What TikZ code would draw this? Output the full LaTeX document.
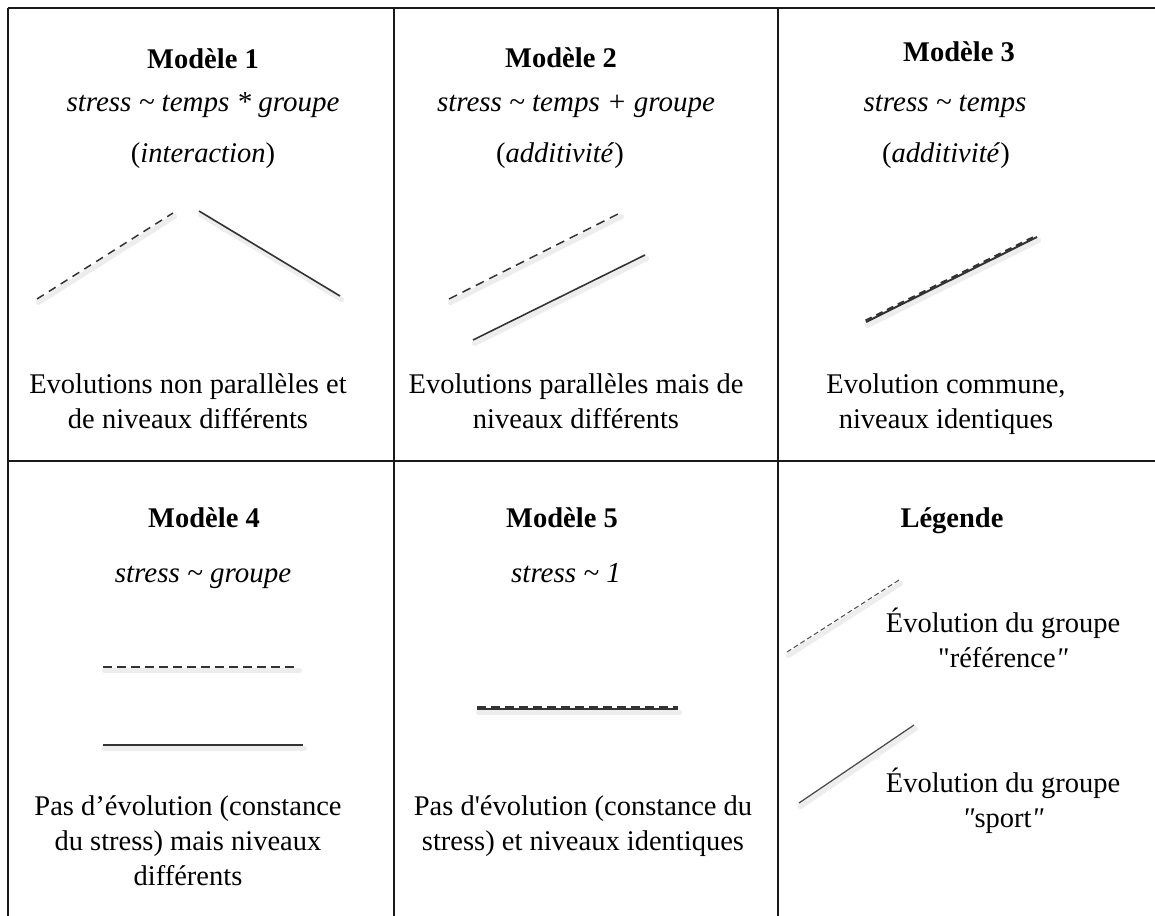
\documentclass[tikz,border=0pt]{standalone}
\usepackage{fontspec}
\setmainfont{Liberation Serif}
\usetikzlibrary{positioning}
\tikzset{
  % lines of the table
  tableline/.style={draw=black!90, line width=1.8pt},
  % texts of the cells (multi-line nodes sit on their last line)
  modelname/.style={anchor=base, inner sep=0pt, font=\fontsize{28.5}{35}\selectfont\bfseries},
  formula/.style={anchor=base, inner sep=0pt, font=\fontsize{29}{35}\selectfont\itshape},
  comment/.style={anchor=base, inner sep=0pt, align=center, font=\fontsize{28.5}{35}\selectfont},
  % soft shadow under the curves
  lineshadow/.style={preaction={draw=black!7, solid, line width=5pt, line cap=round,
      transform canvas={shift={(1.5pt,-3.5pt)}}}},
  % groups "reference" (dashed) and "sport" (solid)
  refline/.style={dash pattern=on 8pt off 6pt, line width=1.5pt, black!80},
  sportline/.style={line width=1.6pt, black!80},
  refgroup/.style={lineshadow, refline},
  sportgroup/.style={lineshadow, sportline},
}

\begin{document}
\begin{tikzpicture}[x=1pt, y=-1pt]
  \useasboundingbox (0,0) rectangle (1155,915);
  \clip (0,0) rectangle (1155,915);
  \fill[white] (0,0) rectangle (1155,915);

  % table
  \draw[tableline] (8,8) -- (1170,8);
  \draw[tableline] (8,8) -- (8,930);
  \draw[tableline] (394,8) -- (394,930);
  \draw[tableline] (778,8) -- (778,930);
  \draw[tableline] (8,461) -- (1170,461);

  % Model 1
  \node[modelname] (t1) at (203,69) {Modèle 1};
  \node[formula] (f1) at (203,112) {stress \char`\~{} temps * groupe};
  \node[comment] (p1) at (203,162) {(\textit{interaction})};
  \coordinate (r1a) at (37,299);
  \coordinate (r1b) at (173,213);
  \coordinate (s1a) at (199,211);
  \coordinate (s1b) at (340,296);
  \draw[refgroup] (r1a) -- (r1b);
  \draw[sportgroup] (s1a) -- (s1b);
  \node[comment] (c1) at (188,428) {Evolutions non parallèles et\\de niveaux différents};

  % Model 2
  \node[modelname] (t2) at (561,68) {Modèle 2};
  \node[formula] (f2) at (576,112) {stress \char`\~{} temps + groupe};
  \node[comment] (p2) at (560,162) {(\textit{additivité})};
  \coordinate (r2a) at (449,299);
  \coordinate (r2b) at (620,213);
  \coordinate (s2a) at (473,340);
  \coordinate (s2b) at (645,255);
  \draw[refgroup, dash pattern=on 9pt off 6pt] (r2a) -- (r2b);
  \draw[sportgroup] (s2a) -- (s2b);
  \node[comment] (c2) at (576,428) {Evolutions parallèles mais de\\niveaux différents};

  % Model 3
  \node[modelname] (t3) at (959,62) {Modèle 3};
  \node[formula] (f3) at (945,112) {stress \char`\~{} temps};
  \node[comment] (p3) at (946,162) {(\textit{additivité})};
  \coordinate (s3a) at (866,322);
  \coordinate (s3b) at (1037,237);
  \coordinate (r3a) at (865.5,320.5);
  \coordinate (r3b) at (1036.5,235.5);
  \draw[sportgroup, line width=2pt] (s3a) -- (s3b);
  \draw[refline, line width=2pt, dash pattern=on 7pt off 5pt] (r3a) -- (r3b);
  \node[comment] (c3) at (946,428) {Evolution commune,\\niveaux identiques};

  % Model 4
  \node[modelname] (t4) at (204,527) {Modèle 4};
  \node[formula] (f4) at (203,582) {stress \char`\~{} groupe};
  \coordinate (r4a) at (103,667);
  \coordinate (r4b) at (298,667);
  \coordinate (s4a) at (103,745);
  \coordinate (s4b) at (303,745);
  \draw[refgroup, dash pattern=on 9pt off 5pt] (r4a) -- (r4b);
  \draw[sportgroup] (s4a) -- (s4b);
  \node[comment] (c4) at (188,885) {Pas d’évolution (constance\\du stress) mais niveaux\\différents};

  % Model 5
  \node[modelname] (t5) at (562,527) {Modèle 5};
  \node[formula] (f5) at (566,582) {stress \char`\~{} 1};
  \coordinate (s5a) at (477,709);
  \coordinate (s5b) at (678,709);
  \coordinate (r5a) at (477,707.2);
  \coordinate (r5b) at (678,707.2);
  \draw[sportgroup, line width=2pt] (s5a) -- (s5b);
  \draw[refline, line width=2pt, dash pattern=on 9pt off 5pt] (r5a) -- (r5b);
  \node[comment] (c5) at (583,850) {Pas d\textquotesingle évolution (constance du\\stress) et niveaux identiques};

  % Legend
  \node[modelname] (t6) at (952,527) {Légende};
  \coordinate (r6a) at (787,652);
  \coordinate (r6b) at (899,580);
  \coordinate (s6a) at (799,803);
  \coordinate (s6b) at (914,725);
  \draw[refgroup, line width=1pt, dash pattern=on 5pt off 3pt, black!70] (r6a) -- (r6b);
  \draw[sportgroup, line width=1.3pt, black!70] (s6a) -- (s6b);
  \node[comment] (l1) at (1003,667) {Évolution du groupe\\\textquotedbl référence\textit{\textquotedbl}};
  \node[comment] (l2) at (1003,827) {Évolution du groupe\\\textit{\textquotedbl}sport\textit{\textquotedbl}};
\end{tikzpicture}
\end{document}
